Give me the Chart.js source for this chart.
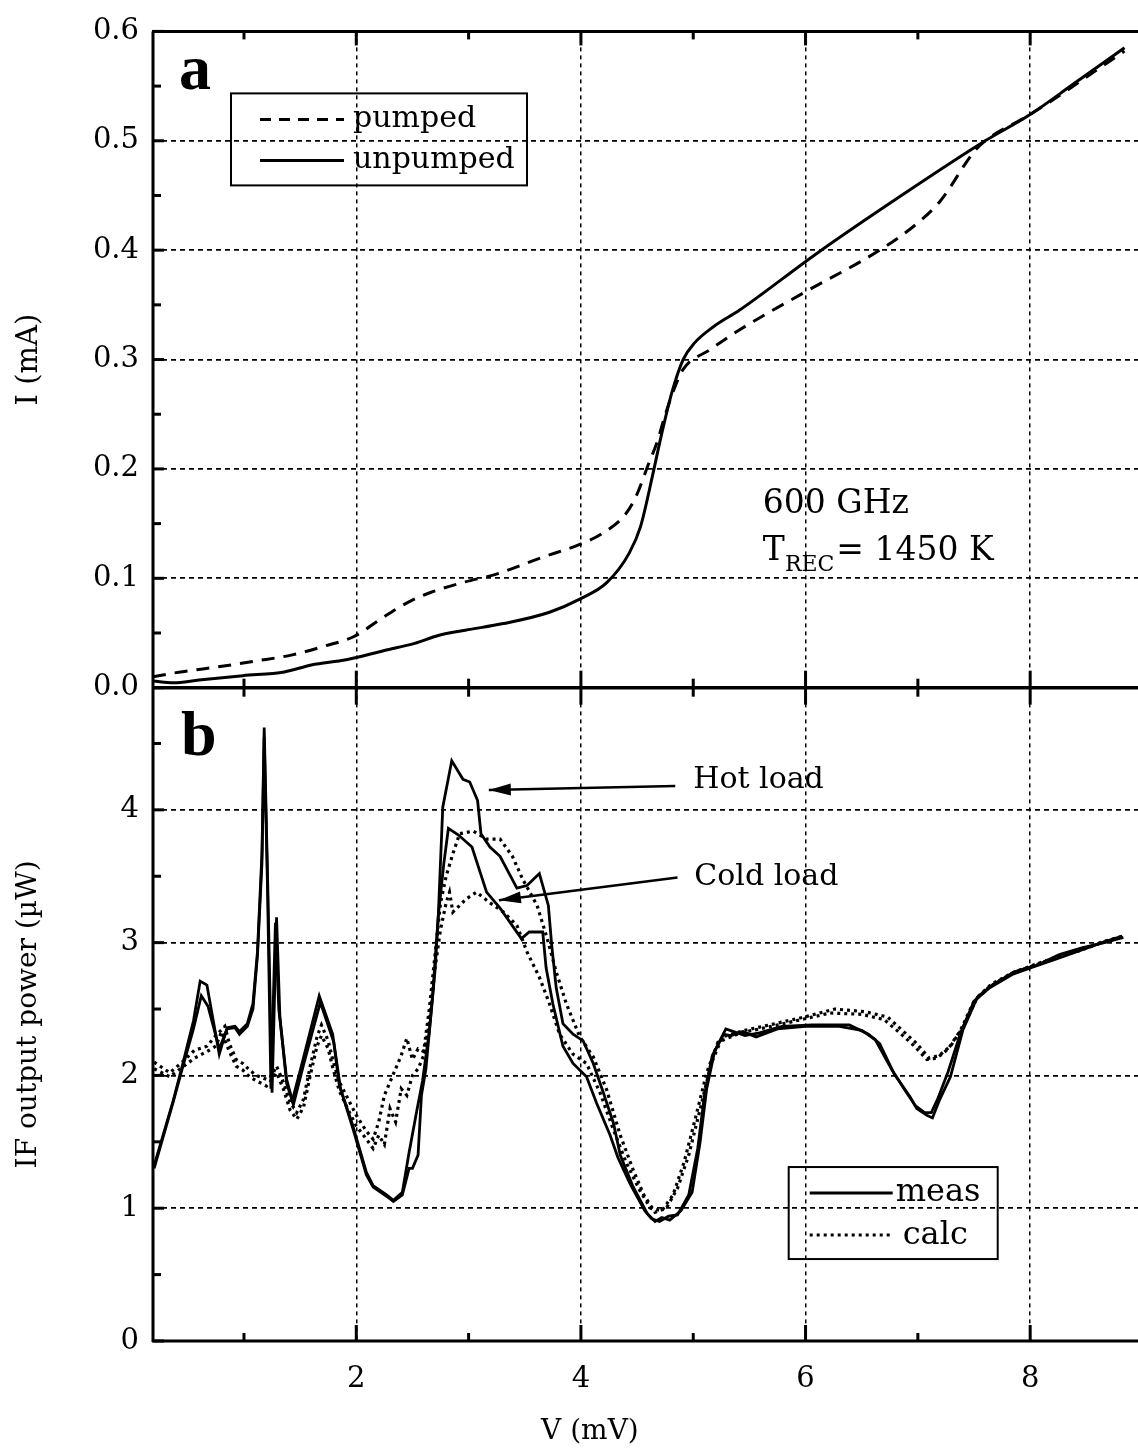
<!DOCTYPE html>
<html>
<head>
<meta charset="utf-8">
<title>SIS mixer: I-V curves and IF output power</title>
<script src="https://cdn.jsdelivr.net/npm/chart.js@4.4.1/dist/chart.umd.min.js"></script>
<style>
  body { margin: 0; background: #fff; }
  #chart { display: block; }
</style>
</head>
<body>
<canvas id="chart" width="1138" height="1452"></canvas>
<script>
// ---- panel a: I-V curves (V in mV, I in mA)
const vUnpumped = [0.19, 0.37, 0.6, 0.99, 1.36, 1.6, 1.91, 2.25, 2.52, 2.73, 2.97, 3.31, 3.72, 3.99, 4.23, 4.43, 4.53, 4.64, 4.71, 4.81, 4.91, 5.01, 5.18, 5.41, 6.1, 6.84, 7.6, 8.0, 8.4, 8.84]
const iUnpumped = [0.006, 0.0045, 0.007, 0.011, 0.0144, 0.0207, 0.0255, 0.034, 0.0405, 0.0477, 0.0525, 0.0586, 0.069, 0.081, 0.096, 0.123, 0.147, 0.195, 0.228, 0.270, 0.300, 0.315, 0.330, 0.345, 0.397, 0.449, 0.500, 0.524, 0.553, 0.585]

const vPumped = [0.19, 0.38, 0.82, 1.10, 1.43, 1.71, 1.98, 2.22, 2.46, 2.66, 2.97, 3.24, 3.65, 3.99, 4.19, 4.40, 4.50, 4.60, 4.68, 4.74, 4.83, 4.91, 5.15, 5.41, 6.0, 6.66, 7.0, 7.2, 7.5, 7.6, 8.0, 8.84]
const iPumped = [0.0099, 0.0135, 0.0198, 0.0243, 0.030, 0.0378, 0.0468, 0.063, 0.078, 0.087, 0.0967, 0.1036, 0.119, 0.131, 0.141, 0.159, 0.177, 0.204, 0.225, 0.246, 0.273, 0.291, 0.309, 0.327, 0.362, 0.400, 0.425, 0.445, 0.490, 0.500, 0.524, 0.582]

// ---- panel b: IF output power (uW), measured and calculated, hot and cold load
const vMeasHot = [0.2, 0.37, 0.45, 0.55, 0.61, 0.67, 0.78, 0.85, 0.92, 0.96, 1.03, 1.08, 1.12, 1.16, 1.18, 1.21, 1.25, 1.29, 1.32, 1.38, 1.43, 1.52, 1.67, 1.79, 1.85, 1.97, 2.09, 2.15, 2.27, 2.33, 2.41, 2.47, 2.54, 2.59, 2.65, 2.70, 2.73, 2.77, 2.85, 2.95, 3.01, 3.08, 3.11, 3.19, 3.28, 3.43, 3.52, 3.63, 3.71, 3.74, 3.78, 3.84, 3.93, 4.02, 4.11, 4.20, 4.29, 4.35, 4.46, 4.59, 4.66, 4.72, 4.79, 4.89, 4.99, 5.06, 5.12, 5.19, 5.29, 5.36, 5.46, 5.59, 5.79, 6.06, 6.39, 6.56, 6.66, 6.79, 6.93, 6.99, 7.08, 7.13, 7.19, 7.29, 7.40, 7.53, 7.66, 7.86, 8.06, 8.26, 8.46, 8.66, 8.83]
const pMeasHot = [1.32, 1.81, 2.07, 2.41, 2.71, 2.68, 2.16, 2.36, 2.37, 2.33, 2.39, 2.54, 2.93, 3.67, 4.62, 3.5, 1.87, 3.19, 2.44, 1.94, 1.81, 2.1, 2.6, 2.31, 1.92, 1.62, 1.27, 1.17, 1.10, 1.06, 1.12, 1.42, 1.74, 1.96, 2.33, 2.78, 3.2, 4.02, 4.37, 4.23, 4.21, 4.07, 3.82, 3.72, 3.65, 3.41, 3.43, 3.52, 3.28, 2.98, 2.66, 2.39, 2.31, 2.26, 2.09, 1.87, 1.64, 1.40, 1.17, 0.96, 0.90, 0.93, 0.91, 0.98, 1.12, 1.49, 1.90, 2.18, 2.35, 2.33, 2.30, 2.32, 2.37, 2.38, 2.38, 2.31, 2.24, 2.01, 1.84, 1.75, 1.70, 1.68, 1.81, 1.99, 2.34, 2.59, 2.68, 2.78, 2.83, 2.91, 2.96, 3.00, 3.04]

const vMeasCold = [0.2, 0.37, 0.45, 0.55, 0.62, 0.68, 0.78, 0.85, 0.92, 0.96, 1.03, 1.08, 1.12, 1.16, 1.18, 1.21, 1.24, 1.28, 1.31, 1.38, 1.44, 1.53, 1.68, 1.80, 1.86, 1.97, 2.09, 2.15, 2.27, 2.33, 2.41, 2.47, 2.50, 2.55, 2.58, 2.62, 2.68, 2.73, 2.78, 2.82, 2.91, 3.03, 3.16, 3.28, 3.47, 3.54, 3.66, 3.69, 3.75, 3.84, 3.93, 4.05, 4.14, 4.26, 4.33, 4.44, 4.57, 4.63, 4.70, 4.78, 4.86, 4.96, 5.04, 5.10, 5.17, 5.27, 5.34, 5.44, 5.56, 5.75, 6.00, 6.30, 6.50, 6.62, 6.77, 6.90, 6.98, 7.06, 7.12, 7.18, 7.27, 7.38, 7.50, 7.64, 7.84, 8.04, 8.24, 8.44, 8.64, 8.82]
const pMeasCold = [1.30, 1.80, 2.05, 2.35, 2.60, 2.52, 2.20, 2.35, 2.36, 2.31, 2.37, 2.50, 2.90, 3.60, 4.55, 3.40, 1.90, 3.15, 2.50, 1.97, 1.78, 2.08, 2.55, 2.25, 1.90, 1.60, 1.25, 1.16, 1.09, 1.05, 1.10, 1.30, 1.30, 1.40, 1.85, 2.05, 2.60, 3.20, 3.60, 3.86, 3.81, 3.72, 3.38, 3.26, 3.03, 3.08, 3.08, 2.81, 2.54, 2.22, 2.09, 1.99, 1.79, 1.55, 1.38, 1.18, 0.98, 0.92, 0.90, 0.94, 0.95, 1.10, 1.45, 1.85, 2.15, 2.31, 2.30, 2.33, 2.29, 2.35, 2.37, 2.37, 2.34, 2.27, 2.04, 1.87, 1.77, 1.72, 1.72, 1.83, 2.03, 2.32, 2.56, 2.66, 2.76, 2.82, 2.88, 2.94, 3.00, 3.05]

const vCalcHot = [0.2, 0.34, 0.45, 0.56, 0.67, 0.75, 0.83, 0.87, 0.93, 0.99, 1.05, 1.11, 1.20, 1.25, 1.29, 1.35, 1.41, 1.47, 1.53, 1.59, 1.65, 1.69, 1.75, 1.79, 1.85, 1.94, 2.0, 2.09, 2.15, 2.2, 2.25, 2.3, 2.35, 2.4, 2.45, 2.5, 2.55, 2.6, 2.65, 2.7, 2.75, 2.80, 2.86, 2.92, 3.04, 3.16, 3.28, 3.39, 3.48, 3.61, 3.70, 3.78, 3.87, 3.99, 4.11, 4.23, 4.35, 4.46, 4.56, 4.66, 4.76, 4.86, 4.96, 5.06, 5.16, 5.26, 5.46, 5.73, 5.99, 6.26, 6.53, 6.73, 6.86, 6.99, 7.10, 7.19, 7.29, 7.40, 7.53, 7.66, 7.86, 8.06, 8.26, 8.46, 8.66, 8.83]
const pCalcHot = [2.10, 2.02, 2.10, 2.19, 2.22, 2.30, 2.37, 2.24, 2.12, 2.09, 2.04, 2.00, 1.97, 2.00, 2.07, 1.95, 1.80, 1.72, 1.82, 2.07, 2.29, 2.38, 2.26, 2.12, 1.95, 1.80, 1.70, 1.58, 1.52, 1.65, 1.85, 1.95, 2.05, 2.15, 2.28, 2.12, 2.20, 2.18, 2.50, 2.90, 3.30, 3.50, 3.67, 3.82, 3.84, 3.78, 3.78, 3.65, 3.48, 3.28, 3.03, 2.78, 2.54, 2.29, 2.14, 1.89, 1.55, 1.30, 1.10, 0.97, 1.00, 1.15, 1.40, 1.74, 2.09, 2.29, 2.34, 2.39, 2.44, 2.50, 2.48, 2.44, 2.34, 2.24, 2.13, 2.15, 2.22, 2.36, 2.59, 2.69, 2.78, 2.84, 2.90, 2.95, 3.01, 3.05]

const vCalcCold = [0.2, 0.34, 0.45, 0.56, 0.67, 0.75, 0.80, 0.87, 0.93, 0.99, 1.05, 1.11, 1.20, 1.25, 1.29, 1.35, 1.41, 1.47, 1.53, 1.59, 1.65, 1.69, 1.75, 1.79, 1.85, 1.94, 2.0, 2.09, 2.15, 2.2, 2.25, 2.3, 2.35, 2.4, 2.45, 2.5, 2.55, 2.6, 2.65, 2.7, 2.75, 2.80, 2.83, 2.86, 2.98, 3.07, 3.19, 3.31, 3.43, 3.52, 3.63, 3.72, 3.81, 3.93, 4.05, 4.17, 4.29, 4.40, 4.52, 4.62, 4.72, 4.82, 4.92, 5.02, 5.12, 5.22, 5.42, 5.70, 5.96, 6.22, 6.50, 6.70, 6.84, 6.97, 7.08, 7.17, 7.27, 7.38, 7.50, 7.64, 7.84, 8.04, 8.24, 8.44, 8.64, 8.82]
const pCalcCold = [2.05, 1.99, 2.06, 2.13, 2.18, 2.22, 2.33, 2.18, 2.07, 2.04, 1.99, 1.96, 1.92, 1.97, 2.02, 1.90, 1.74, 1.67, 1.76, 2.00, 2.22, 2.30, 2.20, 2.06, 1.88, 1.72, 1.62, 1.52, 1.45, 1.55, 1.48, 1.75, 1.65, 1.90, 1.85, 2.00, 2.05, 2.15, 2.40, 2.80, 3.10, 3.30, 3.38, 3.23, 3.33, 3.38, 3.30, 3.23, 3.13, 2.93, 2.74, 2.54, 2.31, 2.16, 2.09, 1.87, 1.59, 1.35, 1.14, 1.00, 0.98, 1.10, 1.35, 1.68, 2.02, 2.25, 2.32, 2.37, 2.42, 2.47, 2.46, 2.42, 2.32, 2.22, 2.12, 2.13, 2.20, 2.34, 2.56, 2.67, 2.77, 2.83, 2.89, 2.94, 3.00, 3.04]

// ---- axes
const vRange = [0.19, 8.96]
const vTicks = [2, 4, 6, 8]
const vMinor = [1, 3, 5, 7]
const iRange = [0, 0.6]
const iTicks = [0, 0.1, 0.2, 0.3, 0.4, 0.5, 0.6]
const iMinor = [0.05, 0.15, 0.25, 0.35, 0.45, 0.55]
const pRange = [0, 4.92]
const pTicks = [0, 1, 2, 3, 4]
const pMinor = [0.5, 1.5, 2.5, 3.5, 4.5]

const serif = 'DejaVu Serif'
const numFont = { family: serif, size: 29 }
const pts = (xs, ys) => xs.map((v, i) => ({ x: v, y: ys[i] }))

function line(ctx, x1, y1, x2, y2){
    ctx.beginPath()
    ctx.moveTo(x1, y1)
    ctx.lineTo(x2, y2)
    ctx.stroke()
}

function arrow(ctx, x1, y1, x2, y2){
    line(ctx, x1, y1, x2, y2)
    let ang = Math.atan2(y2 - y1, x2 - x1)
    ctx.beginPath()
    ctx.moveTo(x2, y2)
    ctx.lineTo(x2 - 22 * Math.cos(ang) + 6 * Math.sin(ang), y2 - 22 * Math.sin(ang) - 6 * Math.cos(ang))
    ctx.lineTo(x2 - 22 * Math.cos(ang) - 6 * Math.sin(ang), y2 - 22 * Math.sin(ang) + 6 * Math.cos(ang))
    ctx.closePath()
    ctx.fill()
}

// frame, inner tick marks, labels, legends and notes
const decorations = {
    id: 'decorations',
    afterDatasetsDraw(chart){
        const { ctx, chartArea: a, scales: { x, yI, yP } } = chart
        const mid = yI.getPixelForValue(0)
        ctx.save()
        ctx.strokeStyle = '#000'
        ctx.fillStyle = '#000'
        ctx.lineWidth = 3

        line(ctx, a.left - 1, a.top, a.right, a.top)
        line(ctx, a.left, a.top, a.left, a.bottom + 1)
        ctx.lineWidth = 3.5
        line(ctx, a.left, mid, a.right, mid)
        ctx.lineWidth = 3
        line(ctx, a.left - 1, a.bottom, a.right, a.bottom)

        iTicks.forEach(v => { let y = yI.getPixelForValue(v); line(ctx, a.left, y, a.left + 11, y) })
        iMinor.forEach(v => { let y = yI.getPixelForValue(v); line(ctx, a.left, y, a.left + 8, y) })
        pTicks.forEach(v => { let y = yP.getPixelForValue(v); line(ctx, a.left, y, a.left + 11, y) })
        pMinor.forEach(v => { let y = yP.getPixelForValue(v); line(ctx, a.left, y, a.left + 8, y) })

        vTicks.forEach(v => {
            let px = x.getPixelForValue(v)
            line(ctx, px, a.top, px, a.top + 14)
            line(ctx, px, mid - 17, px, mid + 17)
            line(ctx, px, a.bottom - 16, px, a.bottom)
        })
        vMinor.forEach(v => {
            let px = x.getPixelForValue(v)
            line(ctx, px, a.top, px, a.top + 8)
            line(ctx, px, mid - 9, px, mid + 9)
            line(ctx, px, a.bottom - 8, px, a.bottom)
        })

        // panel letters
        ctx.font = 'bold 64px "Liberation Serif"'
        ctx.textBaseline = 'alphabetic'
        ctx.textAlign = 'left'
        ctx.fillText('a', a.left + 26, a.top + 58)
        ctx.fillText('b', a.left + 28, mid + 67)

        // legend of panel a
        ctx.lineWidth = 2
        ctx.strokeRect(a.left + 78, a.top + 62, 296, 92)
        ctx.lineWidth = 3
        ctx.setLineDash([11, 8])
        line(ctx, a.left + 107, a.top + 88, a.left + 191, a.top + 88)
        ctx.setLineDash([])
        line(ctx, a.left + 107, a.top + 129, a.left + 191, a.top + 129)
        ctx.font = '30px "' + serif + '"'
        ctx.textBaseline = 'middle'
        ctx.fillText('pumped', a.left + 200, a.top + 88)
        ctx.fillText('unpumped', a.left + 200, a.top + 129)

        // legend of panel b
        let lx = x.getPixelForValue(5.85), ly = yP.getPixelForValue(1.31)
        ctx.lineWidth = 2
        ctx.strokeRect(lx, ly, 209, 92)
        ctx.lineWidth = 3
        line(ctx, lx + 21, ly + 26, lx + 104, ly + 26)
        ctx.setLineDash([3, 4])
        line(ctx, lx + 21, ly + 68, lx + 104, ly + 68)
        ctx.setLineDash([])
        ctx.font = '32px "' + serif + '"'
        ctx.fillText('meas', lx + 107, ly + 26)
        ctx.fillText('calc', lx + 114, ly + 69)

        // receiver note
        ctx.textBaseline = 'alphabetic'
        ctx.font = '33px "' + serif + '"'
        let tx = x.getPixelForValue(5.62)
        ctx.fillText('600 GHz', tx, yI.getPixelForValue(0.160))
        let ty = yI.getPixelForValue(0.117)
        ctx.fillText('T', tx, ty)
        let w = ctx.measureText('T').width
        ctx.font = '22px "' + serif + '"'
        ctx.fillText('REC', tx + w, ty + 11)
        w += ctx.measureText('REC').width
        ctx.font = '33px "' + serif + '"'
        ctx.fillText('= 1450 K', tx + w + 2, ty)

        // hot / cold load arrows
        ctx.font = '30px "' + serif + '"'
        ctx.textBaseline = 'middle'
        ctx.fillText('Hot load', x.getPixelForValue(5.0), yP.getPixelForValue(4.22))
        ctx.fillText('Cold load', x.getPixelForValue(5.01), yP.getPixelForValue(3.49))
        ctx.lineWidth = 2.5
        arrow(ctx, x.getPixelForValue(4.84), yP.getPixelForValue(4.18), x.getPixelForValue(3.18), yP.getPixelForValue(4.15))
        arrow(ctx, x.getPixelForValue(4.86), yP.getPixelForValue(3.49), x.getPixelForValue(3.27), yP.getPixelForValue(3.32))

        // x axis title
        ctx.font = '28px "' + serif + '"'
        ctx.textAlign = 'center'
        ctx.fillText('V (mV)', x.getPixelForValue(4.08), a.bottom + 91)
        ctx.restore()
    }
}

const ctx = document.getElementById('chart').getContext('2d')

const chart = new Chart(ctx, {
    type: 'line',
    data: {
        datasets: [
            { label: 'pumped', data: pts(vPumped, iPumped), yAxisID: 'yI', borderColor: '#000', borderWidth: 3, borderDash: [13, 9], cubicInterpolationMode: 'monotone' },
            { label: 'unpumped', data: pts(vUnpumped, iUnpumped), yAxisID: 'yI', borderColor: '#000', borderWidth: 3, cubicInterpolationMode: 'monotone' },
            { label: 'calc hot', data: pts(vCalcHot, pCalcHot), yAxisID: 'yP', borderColor: '#000', borderWidth: 3.2, borderDash: [3, 4] },
            { label: 'calc cold', data: pts(vCalcCold, pCalcCold), yAxisID: 'yP', borderColor: '#000', borderWidth: 3.2, borderDash: [3, 4] },
            { label: 'meas hot', data: pts(vMeasHot, pMeasHot), yAxisID: 'yP', borderColor: '#000', borderWidth: 2.8 },
            { label: 'meas cold', data: pts(vMeasCold, pMeasCold), yAxisID: 'yP', borderColor: '#000', borderWidth: 2.8 }
        ]
    },
    options: {
        responsive: false,
        animation: false,
        parsing: false,
        layout: { padding: { top: 16, left: 0, right: 0, bottom: 0 } },
        elements: { point: { radius: 0 }, line: { tension: 0, fill: false } },
        plugins: { legend: { display: false }, tooltip: { enabled: false } },
        scales: {
            x: {
                type: 'linear', min: vRange[0], max: vRange[1],
                afterBuildTicks: s => { s.ticks = vTicks.map(v => ({ value: v })) },
                afterFit: s => { s.height = 111 },
                ticks: { font: numFont, color: '#000', padding: 21, maxRotation: 0 },
                grid: { color: '#000', lineWidth: 1.5, drawTicks: false },
                border: { display: false, dash: [4, 4] }
            },
            yP: {
                type: 'linear', axis: 'y', position: 'left', stack: 'panels', stackWeight: 661,
                min: pRange[0], max: pRange[1],
                afterBuildTicks: s => { s.ticks = pTicks.map(v => ({ value: v })) },
                afterFit: s => { s.width = 153 },
                ticks: { font: numFont, color: '#000', padding: 14 },
                grid: { color: '#000', lineWidth: 1.8, drawTicks: false },
                border: { display: false, dash: [5, 4] },
                title: { display: true, text: 'IF output power (µW)', color: '#000', font: { family: serif, size: 28 }, padding: { top: 12, bottom: 0 } }
            },
            yI: {
                type: 'linear', axis: 'y', position: 'left', stack: 'panels', stackWeight: 664,
                min: iRange[0], max: iRange[1],
                afterBuildTicks: s => { s.ticks = iTicks.map(v => ({ value: v })) },
                afterFit: s => { s.width = 153 },
                ticks: { font: numFont, color: '#000', padding: 14, callback: v => v.toFixed(1) },
                grid: { color: '#000', lineWidth: 1.8, drawTicks: false },
                border: { display: false, dash: [5, 4] },
                title: { display: true, text: 'I (mA)', color: '#000', font: { family: serif, size: 29 }, padding: { top: 12, bottom: 0 } }
            }
        }
    },
    plugins: [decorations]
})
</script>
</body>
</html>
